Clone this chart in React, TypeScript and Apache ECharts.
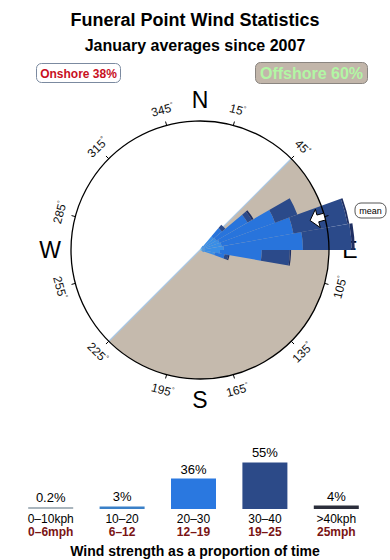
import React, { useEffect, useRef } from "react";
import * as echarts from "echarts";

// ---------- data ----------
const titleText = "Funeral Point Wind Statistics";
const subtitleText = "January averages since 2007";
const footerText = "Wind strength as a proportion of time";

const onshorePct = 38;
const offshorePct = 60;
const offshoreFrom = 45; // bearing, degrees
const offshoreTo = 225;

const speedKph = ["0–10kph", "10–20", "20–30", "30–40", ">40kph"];
const speedMph = ["0–6mph", "6–12", "12–19", "19–25", "25mph"];
const speedShare = [0.2, 3, 36, 55, 4];

// rose: direction bins (start bearing, 10° wide) and radial length per speed class
const dirBinStart = [30, 40, 50, 60, 70, 80, 90, 100, 110];
const rose0to10 = [0.2, 0.3, 0.3, 0.3, 0.3, 0.3, 0.3, 0.3, 0.2];
const rose10to20 = [0.6, 2.5, 2.7, 3.0, 3.2, 3.5, 2.9, 2.1, 0.5];
const rose20to30 = [0, 1.8, 5.8, 9.5, 11.7, 12.7, 6.7, 1.6, 0];
const rose30to40 = [0, 0.7, 0.8, 3.8, 8.8, 7.8, 4.5, 0.6, 0];
const rose40plus = [0, 0, 0.3, 0, 0.3, 0.5, 0.2, 0.2, 0];

const degreeLabels = [15, 45, 105, 135, 165, 195, 225, 255, 285, 315, 345];
const cardinalNames = ["N", "E", "S", "W"];
const cardinalBearings = [0, 90, 180, 270];
const meanDirection = 75;

// ---------- styles ----------
const CX = 200;
const CY = 250;
const R = 129;
const ROSE_R = 156;
const ROSE_MAX = 25;
const FONT = "'Liberation Sans', Arial, Helvetica, sans-serif";
const roseColors = ["#5cc6f2", "#3a8ee6", "#2874dc", "#2b4a8a", "#1f2f62"];
const barColors = ["#a9b5bd", "#3a80c8", "#2a78e0", "#2c4a88", "#2b2e3b"];
const TAN = "#c5baad";

function pt(bearing: number, r: number, v = 0): [number, number] {
  const a = (bearing * Math.PI) / 180;
  return [CX + r * Math.sin(a) + v * Math.cos(a), CY - r * Math.cos(a) + v * Math.sin(a)];
}

function labelRotation(b: number): number {
  let d = b % 180;
  if (d > 90) d -= 180;
  return (-d * Math.PI) / 180;
}

function fullBins(vals: number[]): number[] {
  const arr = new Array(36).fill(0);
  dirBinStart.forEach((d, i) => {
    arr[d / 10] = vals[i];
  });
  return arr;
}

export default function App() {
  const ref = useRef<HTMLDivElement>(null);

  useEffect(() => {
    if (!ref.current) return;
    const chart = echarts.init(ref.current, null, { renderer: "svg" });

    const roseSeries = [rose0to10, rose10to20, rose20to30, rose30to40, rose40plus].map((vals, i) => ({
      type: "bar",
      name: speedKph[i],
      coordinateSystem: "polar",
      polarIndex: 1,
      stack: "rose",
      barCategoryGap: "0%",
      data: fullBins(vals),
      itemStyle: { color: roseColors[i] },
      z: 2,
      silent: true,
    }));

    const graphics: any[] = [];
    // offshore sector
    graphics.push({
      type: "sector",
      z: 0,
      shape: {
        cx: CX,
        cy: CY,
        r: R,
        r0: 0,
        startAngle: ((offshoreFrom - 90) * Math.PI) / 180,
        endAngle: ((offshoreTo - 90) * Math.PI) / 180,
        clockwise: true,
      },
      style: { fill: TAN },
    });
    const p1 = pt(offshoreFrom, R);
    const p2 = pt(offshoreTo, R);
    graphics.push({
      type: "line",
      z: 1,
      shape: { x1: p1[0], y1: p1[1], x2: p2[0], y2: p2[1] },
      style: { stroke: "#a9c8e6", lineWidth: 1.2 },
    });
    // degree labels
    degreeLabels.forEach((b) => {
      const [x, y] = pt(b, 145);
      graphics.push({
        type: "text",
        z: 1,
        x,
        y,
        rotation: labelRotation(b),
        style: {
          text: `{n|${b}}{d|°}`,
          align: "center",
          verticalAlign: "middle",
          rich: {
            n: { fontSize: 12, fontFamily: FONT, fill: "#111" },
            d: { fontSize: 7, fontFamily: FONT, fill: "#111", padding: [0, 0, 6, 0] },
          },
        },
      });
    });
    // cardinal letters
    cardinalNames.forEach((n, i) => {
      const [x, y] = pt(cardinalBearings[i], 150);
      graphics.push({
        type: "text",
        z: 1,
        x,
        y,
        style: {
          text: n,
          fontSize: 23,
          fontFamily: FONT,
          fill: "#000",
          align: "center",
          verticalAlign: "middle",
        },
      });
    });
    // mean arrow
    const rA = 122;
    const local: [number, number][] = [
      [-8, 0],
      [0, -9.5],
      [0, -3.5],
      [7, -3.5],
      [7, 3.5],
      [0, 3.5],
      [0, 9.5],
    ];
    graphics.push({
      type: "polygon",
      z: 10,
      shape: { points: local.map(([u, v]) => pt(meanDirection, rA + u, v)) },
      style: { fill: "#fff", stroke: "#000", lineWidth: 1 },
    });
    graphics.push({
      type: "rect",
      z: 10,
      shape: { x: 355, y: 203, width: 31, height: 15, r: 6 },
      style: { fill: "#fff", stroke: "#555", lineWidth: 1 },
    });
    graphics.push({
      type: "text",
      z: 11,
      x: 370.5,
      y: 210.8,
      style: { text: "mean", fontSize: 9, fontFamily: FONT, fill: "#000", align: "center", verticalAlign: "middle" },
    });
    // legend boxes
    graphics.push({
      type: "rect",
      z: 10,
      shape: { x: 36.5, y: 63.5, width: 84, height: 19, r: 5 },
      style: { fill: "#fff", stroke: "#7b8aa0", lineWidth: 1 },
    });
    graphics.push({
      type: "text",
      z: 11,
      x: 78.5,
      y: 73.5,
      style: {
        text: `Onshore ${onshorePct}%`,
        fontSize: 12,
        fontWeight: "bold",
        fontFamily: FONT,
        fill: "#c8101e",
        align: "center",
        verticalAlign: "middle",
      },
    });
    graphics.push({
      type: "rect",
      z: 10,
      shape: { x: 255.5, y: 62.5, width: 112, height: 21, r: 5 },
      style: { fill: "#c2b6aa", stroke: "#8a8580", lineWidth: 1 },
    });
    graphics.push({
      type: "text",
      z: 11,
      x: 311.5,
      y: 73.5,
      style: {
        text: `Offshore ${offshorePct}%`,
        fontSize: 16,
        fontWeight: "bold",
        fontFamily: FONT,
        fill: "#b2f6a4",
        align: "center",
        verticalAlign: "middle",
      },
    });

    const option: any = {
      animation: false,
      backgroundColor: "#fff",
      title: [
        {
          text: titleText,
          left: "center",
          top: 6,
          textStyle: { fontSize: 18, fontWeight: "bold", fontFamily: FONT, color: "#000" },
        },
        {
          text: subtitleText,
          left: "center",
          top: 32,
          textStyle: { fontSize: 16, fontWeight: "bold", fontFamily: FONT, color: "#000" },
        },
        {
          text: footerText,
          left: "center",
          top: 539,
          textStyle: { fontSize: 14, fontWeight: "bold", fontFamily: FONT, color: "#000" },
        },
      ],
      polar: [
        { center: [CX, CY], radius: R },
        { center: [CX, CY], radius: ROSE_R },
      ],
      angleAxis: [
        {
          polarIndex: 0,
          type: "value",
          min: 0,
          max: 360,
          interval: 30,
          startAngle: 90 - 15,
          clockwise: true,
          z: 5,
          axisLine: { show: true, lineStyle: { color: "#000", width: 1.3 } },
          axisTick: { show: true, length: 4, lineStyle: { color: "#000", width: 1 } },
          axisLabel: { show: false },
          splitLine: { show: false },
        },
        {
          polarIndex: 1,
          type: "category",
          data: new Array(36).fill(0).map((_, i) => String(i * 10)),
          startAngle: 90,
          clockwise: true,
          boundaryGap: true,
          axisLine: { show: false },
          axisTick: { show: false },
          axisLabel: { show: false },
          splitLine: { show: false },
        },
      ],
      radiusAxis: [
        { polarIndex: 0, show: false, min: 0, max: 1, axisLine: { show: false }, splitLine: { show: false } },
        {
          polarIndex: 1,
          type: "value",
          min: 0,
          max: ROSE_MAX,
          show: false,
          axisLine: { show: false },
          axisTick: { show: false },
          axisLabel: { show: false },
          splitLine: { show: false },
        },
      ],
      grid: { left: 15, right: 18, top: 454, bottom: 51 },
      xAxis: {
        type: "category",
        data: speedKph,
        axisLine: { show: false },
        axisTick: { show: false },
        axisLabel: {
          margin: 4,
          interval: 0,
          formatter: (v: string, i: number) => `{a|${v}}\n{b|${speedMph[i]}}`,
          rich: {
            a: { fontSize: 12, fontFamily: FONT, color: "#000", lineHeight: 12.5 },
            b: { fontSize: 12, fontFamily: FONT, color: "#7a1414", fontWeight: "bold", lineHeight: 12.5 },
          },
        },
      },
      yAxis: { type: "value", min: 0, max: 65, show: false, splitLine: { show: false } },
      series: [
        ...roseSeries,
        {
          type: "bar",
          xAxisIndex: 0,
          yAxisIndex: 0,
          barWidth: 45,
          barMinHeight: 2,
          data: speedShare.map((v, i) => ({ value: v, itemStyle: { color: barColors[i] } })),
          label: {
            show: true,
            position: "top",
            distance: 3,
            formatter: (p: any) => `${p.value}%`,
            fontSize: 13,
            fontFamily: FONT,
            color: "#000",
          },
        },
      ],
      graphic: { elements: graphics },
    };

    chart.setOption(option);
    return () => chart.dispose();
  }, []);

  return (
    <div
      ref={ref}
      style={{ position: "absolute", left: 0, top: 0, width: 390, height: 560, background: "#fff" }}
    />
  );
}
